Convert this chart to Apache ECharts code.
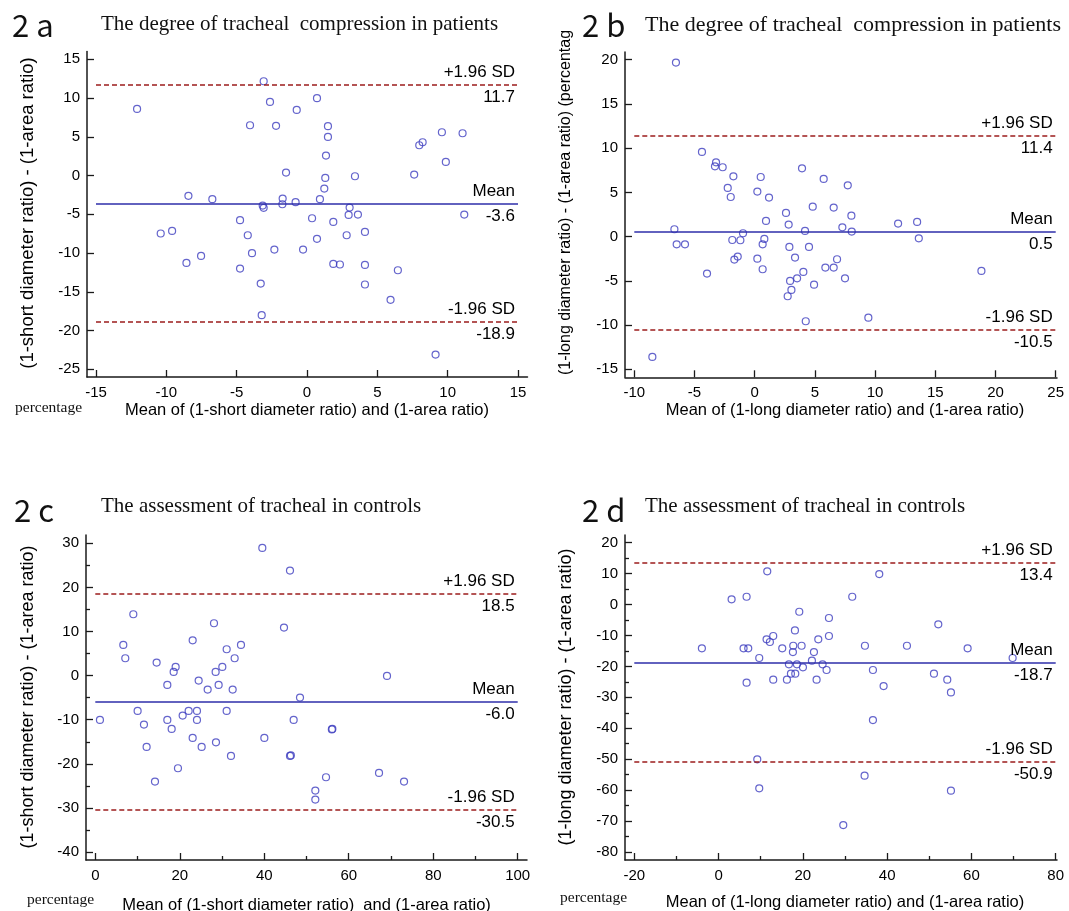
<!DOCTYPE html>
<html>
<head>
<meta charset="utf-8">
<script src="https://cdn.jsdelivr.net/npm/echarts@6/dist/echarts.min.js"></script>
<style>
html,body{margin:0;padding:0;background:#fff;}
#chart{width:1069px;height:911px;}
</style>
</head>
<body>
<div id="chart"></div>
<script>
// ---------- Panel a: short diameter vs area (patients) ----------
const aX = [-12.08,-3.08,-2.63,0.71,-0.73,-4.05,-2.2,1.49,1.49,1.35,9.59,11.06,7.98,8.22,9.87,-1.49,1.3,3.41,7.62,1.23,
  -8.43,-6.73,-1.73,-1.75,-0.81,0.92,-3.15,-3.08,3.03,2.96,3.62,11.18,-4.76,0.36,1.87,-10.4,-9.59,-4.21,2.82,4.12,
  0.71,-7.53,-8.57,-3.91,-2.32,-0.28,-4.76,1.87,2.34,4.12,6.46,-3.29,4.12,5.94,-3.22,9.14];
const aY = [8.6,12.17,9.5,9.98,8.47,6.49,6.41,6.37,4.99,2.58,5.59,5.46,3.91,4.3,1.76,0.39,-0.3,-0.09,0.13,-1.68,
  -2.62,-3.05,-2.97,-3.7,-3.44,-3.05,-3.87,-4.17,-4.13,-5.08,-5.03,-5.03,-5.76,-5.51,-5.98,-7.48,-7.14,-7.7,-7.7,-7.27,
  -8.17,-10.37,-11.27,-10.02,-9.55,-9.55,-12.0,-11.4,-11.48,-11.53,-12.22,-13.94,-14.06,-16.04,-18.02,-23.1];
const aLimits = [11.7, -3.6, -18.9];   // +1.96 SD, mean, -1.96 SD
const aXRange = [-15, 15, 5];
const aYRange = [-25, 15, 5];

// ---------- Panel b: long diameter vs area (patients) ----------
const bX = [-6.54,-4.38,-3.21,-3.3,-2.66,-1.77,-2.24,-1.99,0.5,0.22,1.19,3.93,5.73,7.73,4.82,6.56,2.6,8.03,0.94,2.82,
  7.28,8.06,4.18,11.91,13.49,13.63,-6.67,-6.48,-5.79,-0.97,-1.86,-1.19,0.8,0.66,-1.41,-1.69,0.22,2.88,4.51,3.35,
  6.84,0.66,5.87,6.56,-3.96,4.04,2.94,3.52,7.5,3.05,2.74,4.93,18.83,9.44,4.24,-8.5];
const bY = [19.67,9.57,8.4,7.95,7.84,6.82,5.5,4.48,6.74,5.09,4.41,7.72,6.52,5.8,3.39,3.28,2.68,2.37,1.77,1.36,
  1.05,0.57,0.64,1.47,1.66,-0.19,0.83,-0.87,-0.87,0.38,-0.38,-0.41,-0.26,-0.87,-2.26,-2.6,-2.49,-1.17,-1.17,-2.37,
  -2.56,-3.69,-3.5,-3.5,-4.18,-3.99,-5.01,-4.71,-4.71,-6.03,-6.74,-5.43,-3.88,-9.16,-9.57,-13.6];
const bLimits = [11.4, 0.5, -10.5];
const bXRange = [-10, 25, 5];
const bYRange = [-15, 20, 5];

// ---------- Panel c: short diameter vs area (controls) ----------
const cX = [39.54,46.09,9.0,28.1,44.67,6.63,23.05,34.49,31.1,7.1,32.99,14.52,19.02,30.07,18.55,28.49,69.06,17.05,24.47,29.2,
  26.6,32.52,48.46,10.02,22.1,24.07,31.1,20.68,1.1,17.05,24.07,46.96,11.52,18.08,56.12,56.0,23.05,40.02,28.57,12.15,
  25.18,32.12,46.09,46.3,19.57,67.17,14.13,54.62,73.09,52.09,52.09];
const cY = [28.95,23.81,13.91,11.87,10.88,6.95,8.01,6.95,5.97,3.93,3.93,2.95,1.97,1.97,0.83,0.83,-0.08,-2.12,-1.13,-2.12,
  -3.17,-3.17,-4.99,-8.01,-8.01,-8.01,-8.01,-9.07,-10.05,-10.05,-10.05,-10.05,-11.11,-12.09,-12.09,-12.2,-14.13,-14.13,-15.12,-16.18,
  -16.18,-18.22,-18.22,-18.1,-21.01,-22.07,-24.04,-23.05,-24.04,-26.08,-28.12];
const cLimits = [18.5, -6.0, -30.5];
const cXRange = [0, 100, 20];
const cYRange = [-40, 30, 10];

// ---------- Panel d: long diameter vs area (controls) ----------
const dX = [11.55,38.13,3.09,6.65,31.72,19.15,26.19,52.14,18.12,12.97,26.19,11.39,12.18,23.66,-3.96,5.93,7.04,15.11,17.72,19.7,
  34.73,44.7,59.1,17.64,22.63,9.65,69.78,22.15,16.69,18.59,24.68,20.02,36.63,25.63,17.17,18.2,51.11,6.65,12.97,16.22,
  23.26,54.27,39.16,55.14,36.63,9.18,34.65,9.65,55.14,29.59];
const dY = [10.73,9.87,1.68,2.52,2.52,-2.33,-4.35,-6.4,-8.36,-10.17,-10.17,-11.25,-12.11,-11.25,-14.16,-14.16,-14.16,-14.16,-13.32,-13.32,
  -13.32,-13.32,-14.16,-15.35,-15.35,-17.28,-17.28,-18.15,-19.33,-19.33,-19.33,-20.3,-21.16,-21.16,-22.35,-22.35,-22.35,-25.26,-24.3,-24.3,
  -24.3,-24.3,-26.35,-28.4,-37.35,-50.04,-55.32,-59.42,-60.18,-71.28];
const dLimits = [13.4, -18.7, -50.9];
const dXRange = [-20, 80, 20];
const dYRange = [-80, 20, 10];

// ---------- Texts ----------
const panelTags = ['2 a', '2 b', '2 c', '2 d'];
const panelTitles = [
  'The degree of tracheal  compression in patients',
  'The degree of tracheal  compression in patients',
  'The assessment of tracheal in controls',
  'The assessment of tracheal in controls'
];
const xNames = [
  'Mean of (1-short diameter ratio) and (1-area ratio)',
  'Mean of (1-long diameter ratio) and (1-area ratio)',
  'Mean of (1-short diameter ratio)  and (1-area ratio)',
  'Mean of (1-long diameter ratio) and (1-area ratio)'
];
const yNames = [
  '(1-short diameter ratio) - (1-area ratio)',
  '(1-long diameter ratio) - (1-area ratio) (percentag',
  '(1-short diameter ratio) - (1-area ratio)',
  '(1-long diameter ratio) - (1-area ratio)'
];
const limitNames = ['+1.96 SD', 'Mean', '-1.96 SD'];
const unitText = 'percentage';

// ---------- Layout ----------
const SANS = 'Liberation Sans, Arial, sans-serif';
const SERIF = 'Liberation Serif, Times New Roman, serif';
const MARK = '#3d3dbf', MEAN = '#2e2eaa', SD = '#9c1c1c', AXIS = '#1a1a1a';

const layouts = [
  {data:{left:96, top:59.3, width:422, height:310}, outer:{left:87, top:51.5, right:527.5, bottom:377},
   minor:false, xGap:25, yNameX:28, yNameY:213, yNameSize:18.5, yNameAlign:'center',
   tag:{left:12, top:10}, title:{left:101, top:14, size:21}, unit:{left:15, top:400}},
  {data:{left:634.3, top:59.7, width:421.4, height:309.6}, outer:{left:625, top:52, right:1057, bottom:377.3},
   minor:false, xGap:25, yNameX:566, yNameY:375, yNameSize:16, yNameAlign:'left',
   tag:{left:582, top:10}, title:{left:645, top:14, size:22}, unit:null},
  {data:{left:95.3, top:543.3, width:422.4, height:308.7}, outer:{left:86, top:535, right:527, bottom:860},
   minor:true, xGap:37, yNameX:28, yNameY:697, yNameSize:18, yNameAlign:'center',
   tag:{left:14, top:495}, title:{left:101, top:496, size:21}, unit:{left:27, top:892}},
  {data:{left:634.3, top:542.7, width:421.4, height:309.3}, outer:{left:625, top:535, right:1057, bottom:860},
   minor:true, xGap:34, yNameX:566, yNameY:697, yNameSize:18, yNameAlign:'center',
   tag:{left:582, top:495}, title:{left:645, top:496, size:21}, unit:{left:560, top:890}}
];

const panels = [
  {xs:aX, ys:aY, lim:aLimits, xr:aXRange, yr:aYRange},
  {xs:bX, ys:bY, lim:bLimits, xr:bXRange, yr:bYRange},
  {xs:cX, ys:cY, lim:cLimits, xr:cXRange, yr:cYRange},
  {xs:dX, ys:dY, lim:dLimits, xr:dXRange, yr:dYRange}
];

const option = {
  animation: false,
  backgroundColor: '#ffffff',
  title: [], graphic: [], grid: [], xAxis: [], yAxis: [], series: []
};

panels.forEach((p, i) => {
  const L = layouts[i];
  const d = L.data, o = L.outer;
  const xOffset = o.bottom - (d.top + d.height);
  const yOffset = d.left - o.left;

  option.grid.push({left:d.left, top:d.top, width:d.width, height:d.height,
    containLabel:false, outerBoundsMode:'none'});
  option.grid.push({left:o.left, top:o.top, width:o.right - o.left, height:o.bottom - o.top,
    containLabel:false, outerBoundsMode:'none'});

  const tickStyle = {color: AXIS, width: 1.3};
  option.xAxis.push({
    type:'value', gridIndex: 2*i, min:p.xr[0], max:p.xr[1], interval:p.xr[2],
    position:'bottom', offset:xOffset,
    axisLine:{show:false, onZero:false},
    axisTick:{show:true, inside:true, length:7, lineStyle:tickStyle},
    minorTick:{show:L.minor, splitNumber:2, length:4, lineStyle:tickStyle},
    splitLine:{show:false}, minorSplitLine:{show:false},
    axisLabel:{color:'#000', fontFamily:SANS, fontSize:15, margin:8, showMinLabel:true, showMaxLabel:true},
    name: xNames[i], nameLocation:'middle', nameGap:L.xGap,
    nameTextStyle:{color:'#000', fontFamily:SANS, fontSize:16.5}
  });
  option.yAxis.push({
    type:'value', gridIndex: 2*i, min:p.yr[0], max:p.yr[1], interval:p.yr[2],
    position:'left', offset:yOffset,
    axisLine:{show:false, onZero:false},
    axisTick:{show:true, inside:true, length:7, lineStyle:tickStyle},
    minorTick:{show:L.minor, splitNumber:2, length:4, lineStyle:tickStyle},
    splitLine:{show:false}, minorSplitLine:{show:false},
    axisLabel:{color:'#000', fontFamily:SANS, fontSize:15, margin:7, showMinLabel:true, showMaxLabel:true}
  });
  option.xAxis.push({
    type:'value', gridIndex: 2*i+1, min:0, max:1, position:'bottom',
    axisLine:{show:true, onZero:false, lineStyle:{color:AXIS, width:1.5}},
    axisTick:{show:false}, axisLabel:{show:false}, splitLine:{show:false}
  });
  option.yAxis.push({
    type:'value', gridIndex: 2*i+1, min:0, max:1, position:'left',
    axisLine:{show:true, onZero:false, lineStyle:{color:AXIS, width:1.5}},
    axisTick:{show:false}, axisLabel:{show:false}, splitLine:{show:false}
  });

  const labelBase = {show:true, color:'#000', fontFamily:SANS, fontSize:17, distance:[3, 4]};
  const lineStyles = [
    {color:SD, width:1.5, type:[5,3]},
    {color:MEAN, width:1.6, type:'solid'},
    {color:SD, width:1.5, type:[5,3]}
  ];
  const mlData = [];
  p.lim.forEach((v, k) => {
    mlData.push({yAxis:v, lineStyle:lineStyles[k],
      label:Object.assign({}, labelBase, {position:'insideEndTop', formatter:limitNames[k]})});
    mlData.push({yAxis:v, lineStyle:{color:'rgba(0,0,0,0)', width:1, type:'solid'},
      label:Object.assign({}, labelBase, {position:'insideEndBottom', formatter:v.toFixed(1)})});
  });

  option.series.push({
    type:'scatter', xAxisIndex:2*i, yAxisIndex:2*i,
    data: p.xs.map((x, k) => [x, p.ys[k]]),
    symbol:'circle', symbolSize:7,
    itemStyle:{color:'rgba(255,255,255,0)', borderColor:MARK, borderWidth:1.2},
    silent:true,
    markLine:{silent:true, symbol:['none','none'], animation:false, data: mlData}
  });

  option.title.push({text:panelTags[i], left:L.tag.left, top:L.tag.top, padding:0,
    textStyle:{fontFamily:'Noto Sans CJK SC', fontSize:31, fontWeight:'normal', color:'#111'}});
  option.title.push({text:panelTitles[i], left:L.title.left, top:L.title.top, padding:0,
    textStyle:{fontFamily:SERIF, fontSize:L.title.size, fontWeight:'normal', color:'#111'}});
  if (L.unit) {
    option.title.push({text:unitText, left:L.unit.left, top:L.unit.top, padding:0,
      textStyle:{fontFamily:SERIF, fontSize:15.5, fontWeight:'normal', color:'#111'}});
  }
  option.graphic.push({type:'text', x:L.yNameX, y:L.yNameY, rotation:Math.PI/2, silent:true,
    style:{text:yNames[i], fill:'#000', font:L.yNameSize + 'px ' + SANS,
      align:L.yNameAlign, verticalAlign:'middle'}});
});

const chart = echarts.init(document.getElementById('chart'), null, {renderer:'canvas'});
chart.setOption(option);
</script>
</body>
</html>
